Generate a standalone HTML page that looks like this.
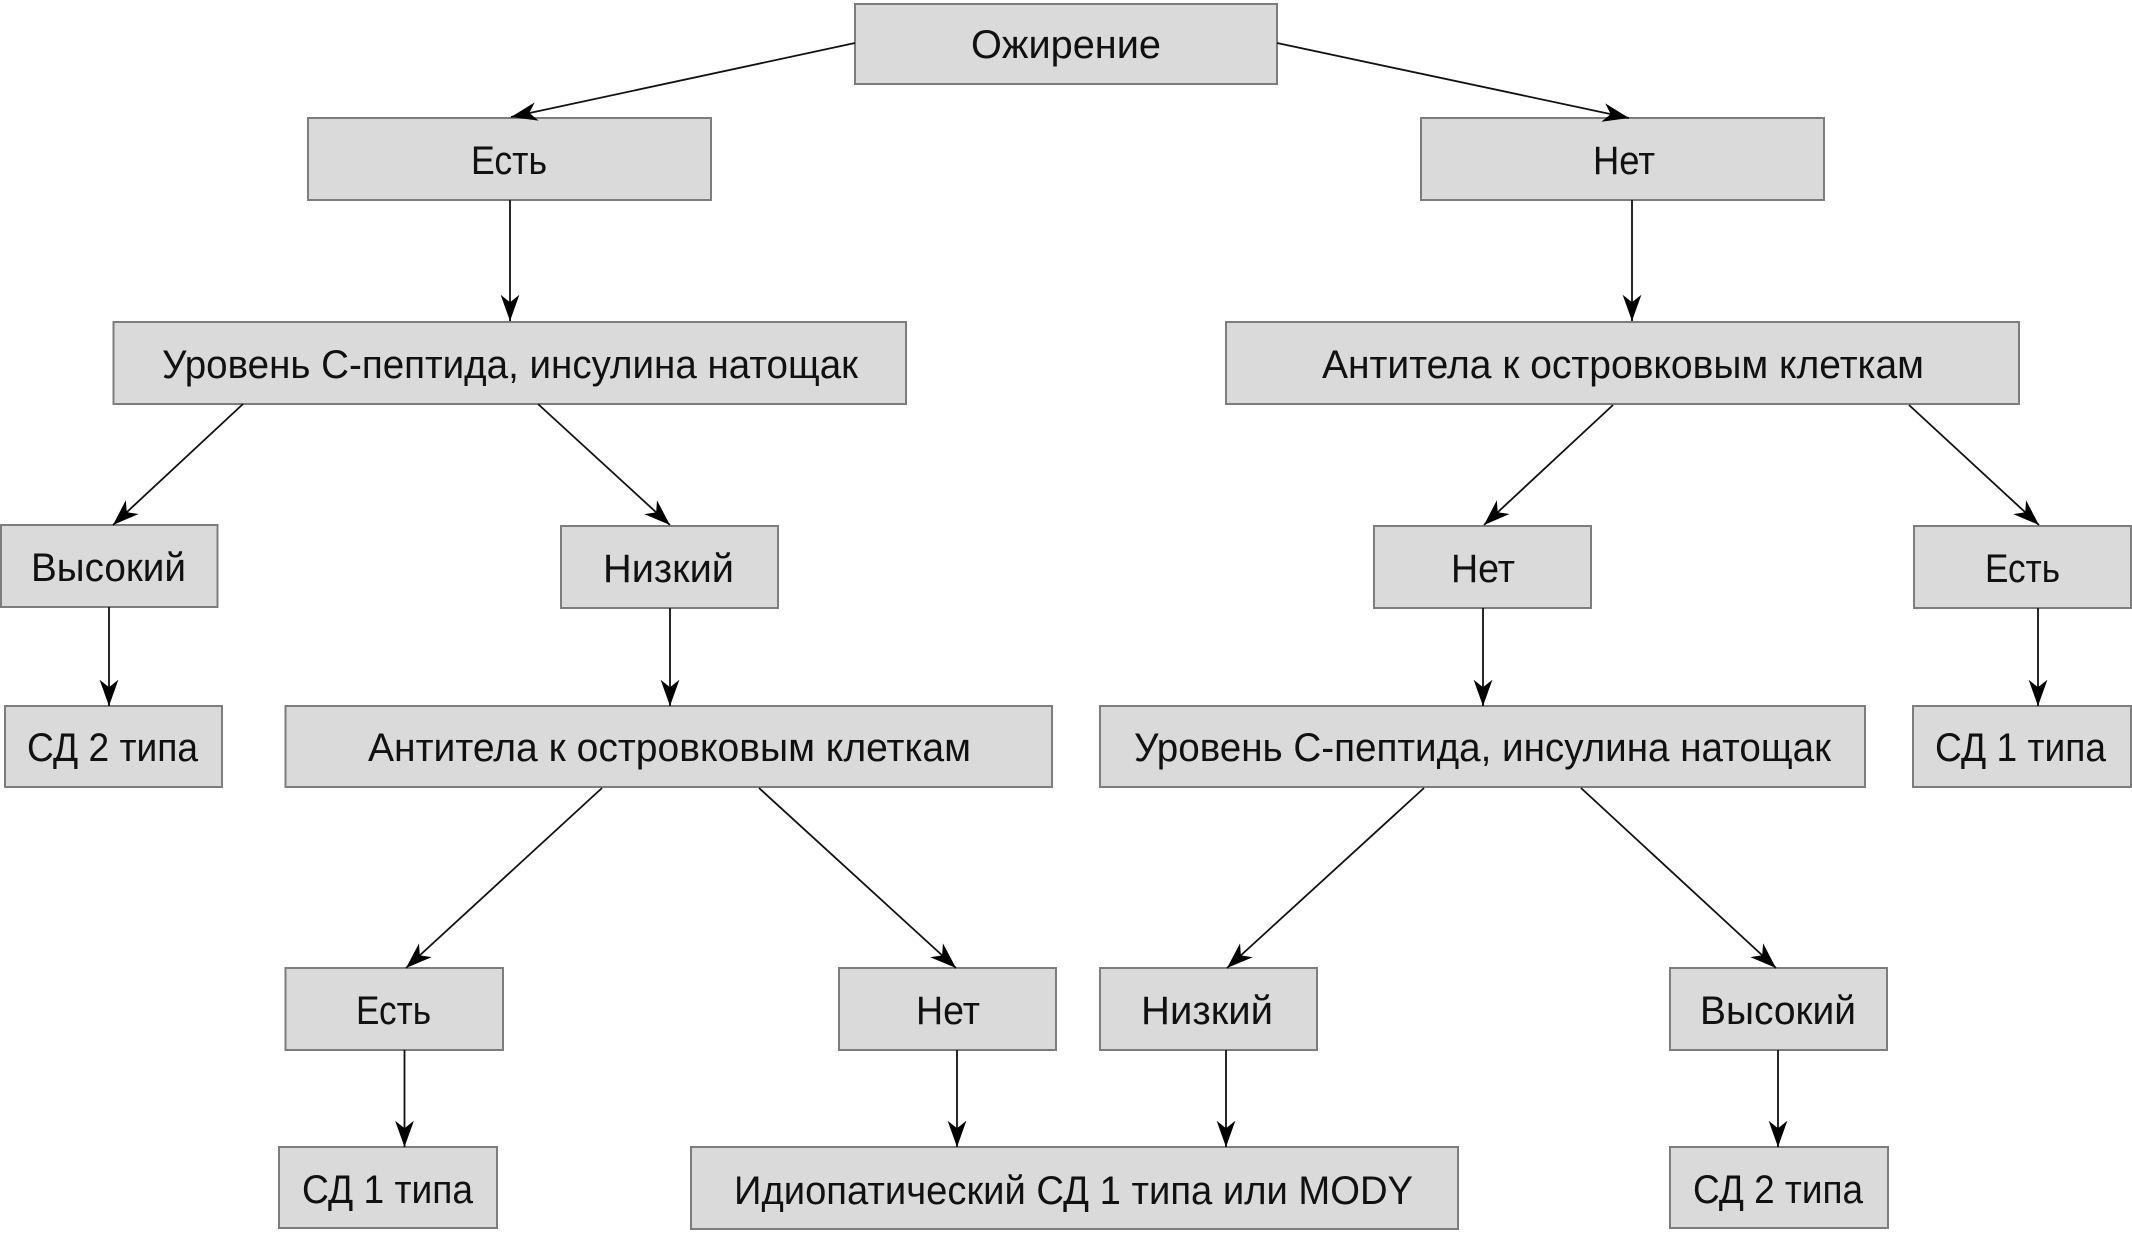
<!DOCTYPE html>
<html><head><meta charset="utf-8"><style>
html,body{margin:0;padding:0;background:#fff;}
svg{display:block;}
text{font-family:"Liberation Sans","DejaVu Sans",sans-serif;font-size:40px;fill:#111;}
.b{fill:#dadada;stroke:#7d7d7d;stroke-width:2;}
.l{stroke:#111;stroke-width:1.8;fill:none;}
</style></head><body>
<svg width="2132" height="1233" viewBox="0 0 2132 1233" xmlns="http://www.w3.org/2000/svg">
<defs>
<marker id="a" markerUnits="userSpaceOnUse" markerWidth="30" markerHeight="30" viewBox="-22 -10 24 20" refX="0" refY="0" orient="auto">
<path d="M0,0 L-21,-7.5 L-15,0 L-21,7.5 Z" fill="#000"/>
</marker>
</defs>

<!-- boxes -->
<rect class="b" x="855" y="4" width="422" height="80"/>
<rect class="b" x="308" y="118" width="403" height="82"/>
<rect class="b" x="1421" y="118" width="403" height="82"/>
<rect class="b" x="113.5" y="322" width="792.5" height="82"/>
<rect class="b" x="1226" y="322" width="793" height="82"/>
<rect class="b" x="1" y="525" width="216.5" height="82"/>
<rect class="b" x="561" y="526" width="217" height="82"/>
<rect class="b" x="1374" y="526" width="217" height="82"/>
<rect class="b" x="1914" y="526" width="217" height="82"/>
<rect class="b" x="5" y="706" width="217" height="81"/>
<rect class="b" x="285.5" y="706" width="766.5" height="81"/>
<rect class="b" x="1100" y="706" width="765" height="81"/>
<rect class="b" x="1913" y="706" width="218" height="81"/>
<rect class="b" x="285.5" y="968" width="217.5" height="82"/>
<rect class="b" x="839" y="968" width="217" height="82"/>
<rect class="b" x="1100" y="968" width="217" height="82"/>
<rect class="b" x="1670" y="968" width="217" height="82"/>
<rect class="b" x="279" y="1147" width="218" height="81"/>
<rect class="b" x="691" y="1147" width="767" height="82"/>
<rect class="b" x="1670" y="1147" width="218" height="81"/>

<!-- connectors -->
<line class="l" x1="855" y1="43" x2="511" y2="117" marker-end="url(#a)"/>
<line class="l" x1="1277" y1="43" x2="1629" y2="118" marker-end="url(#a)"/>
<line class="l" x1="510" y1="200" x2="510" y2="321" marker-end="url(#a)"/>
<line class="l" x1="1632" y1="200" x2="1632" y2="321" marker-end="url(#a)"/>
<line class="l" x1="243" y1="404" x2="113" y2="525" marker-end="url(#a)"/>
<line class="l" x1="538" y1="404" x2="670" y2="525" marker-end="url(#a)"/>
<line class="l" x1="1613" y1="405" x2="1484" y2="525" marker-end="url(#a)"/>
<line class="l" x1="1909" y1="405" x2="2039" y2="525" marker-end="url(#a)"/>
<line class="l" x1="109" y1="607" x2="109" y2="706" marker-end="url(#a)"/>
<line class="l" x1="670" y1="608" x2="670" y2="706" marker-end="url(#a)"/>
<line class="l" x1="1483" y1="608" x2="1483" y2="706" marker-end="url(#a)"/>
<line class="l" x1="2038" y1="608" x2="2038" y2="706" marker-end="url(#a)"/>
<line class="l" x1="602" y1="788" x2="406" y2="968" marker-end="url(#a)"/>
<line class="l" x1="759" y1="788" x2="956" y2="968" marker-end="url(#a)"/>
<line class="l" x1="1424" y1="788" x2="1227" y2="968" marker-end="url(#a)"/>
<line class="l" x1="1581" y1="788" x2="1776" y2="968" marker-end="url(#a)"/>
<line class="l" x1="404.5" y1="1050" x2="404.5" y2="1147" marker-end="url(#a)"/>
<line class="l" x1="957" y1="1050" x2="957" y2="1147" marker-end="url(#a)"/>
<line class="l" x1="1226" y1="1050" x2="1226" y2="1147" marker-end="url(#a)"/>
<line class="l" x1="1778" y1="1050" x2="1778" y2="1147" marker-end="url(#a)"/>

<!-- labels -->
<text x="971" y="58" textLength="190" lengthAdjust="spacingAndGlyphs">Ожирение</text>
<text x="471" y="174" textLength="76" lengthAdjust="spacingAndGlyphs">Есть</text>
<text x="1593" y="174" textLength="62" lengthAdjust="spacingAndGlyphs">Нет</text>
<text x="162" y="378" textLength="696" lengthAdjust="spacingAndGlyphs">Уровень С-пептида, инсулина натощак</text>
<text x="1322" y="378" textLength="602" lengthAdjust="spacingAndGlyphs">Антитела к островковым клеткам</text>
<text x="31" y="581" textLength="155" lengthAdjust="spacingAndGlyphs">Высокий</text>
<text x="603" y="582" textLength="131" lengthAdjust="spacingAndGlyphs">Низкий</text>
<text x="1451" y="582" textLength="64" lengthAdjust="spacingAndGlyphs">Нет</text>
<text x="1985" y="582" textLength="75" lengthAdjust="spacingAndGlyphs">Есть</text>
<text x="27" y="761" textLength="171" lengthAdjust="spacingAndGlyphs">СД 2 типа</text>
<text x="368" y="761" textLength="603" lengthAdjust="spacingAndGlyphs">Антитела к островковым клеткам</text>
<text x="1134" y="761" textLength="697" lengthAdjust="spacingAndGlyphs">Уровень С-пептида, инсулина натощак</text>
<text x="1935" y="761" textLength="171" lengthAdjust="spacingAndGlyphs">СД 1 типа</text>
<text x="356" y="1024" textLength="75" lengthAdjust="spacingAndGlyphs">Есть</text>
<text x="916" y="1024" textLength="64" lengthAdjust="spacingAndGlyphs">Нет</text>
<text x="1141" y="1024" textLength="132" lengthAdjust="spacingAndGlyphs">Низкий</text>
<text x="1700" y="1024" textLength="156" lengthAdjust="spacingAndGlyphs">Высокий</text>
<text x="302" y="1203" textLength="171" lengthAdjust="spacingAndGlyphs">СД 1 типа</text>
<text x="734" y="1204" textLength="679" lengthAdjust="spacingAndGlyphs">Идиопатический СД 1 типа или MODY</text>
<text x="1693" y="1203" textLength="170" lengthAdjust="spacingAndGlyphs">СД 2 типа</text>
</svg>
</body></html>
